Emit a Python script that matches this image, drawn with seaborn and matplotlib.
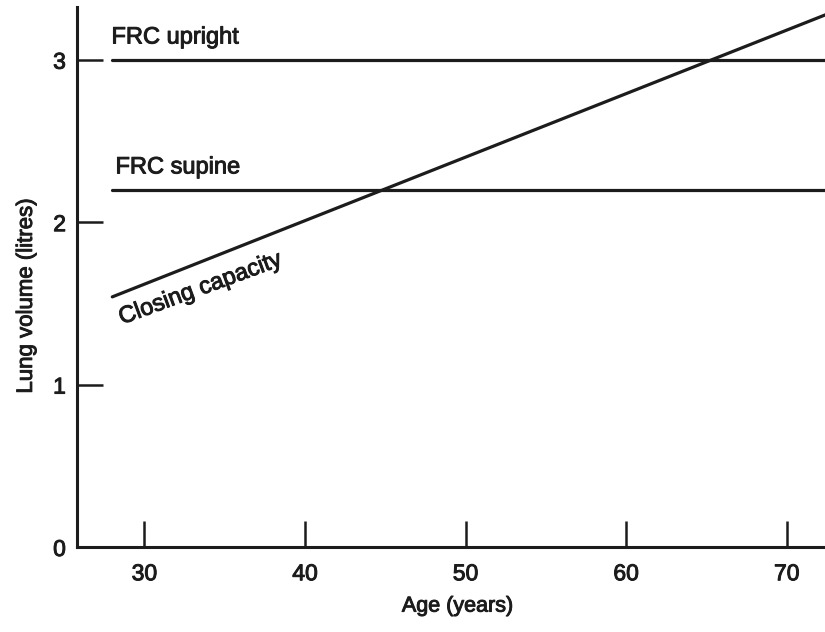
import matplotlib
matplotlib.use("Agg")
import matplotlib.pyplot as plt
import matplotlib.patheffects as pe
import seaborn as sns
import pandas as pd

# Lung volumes against age
age_span = [28, 72.5]
frc_upright = [3.0, 3.0]
frc_supine = [2.2, 2.2]
closing_capacity = [1.54, 3.28]

x_ticks = [30, 40, 50, 60, 70]
y_ticks = [0, 1, 2, 3]

sns.set_style("ticks")
plt.rcParams["font.family"] = ["Liberation Sans", "DejaVu Sans"]

ink = "#1c1c1c"
thick = [pe.withStroke(linewidth=0.7, foreground=ink)]

df = pd.DataFrame({
    "age": age_span * 3,
    "volume": frc_upright + frc_supine + closing_capacity,
    "curve": ["FRC upright"] * 2 + ["FRC supine"] * 2 + ["Closing capacity"] * 2,
})

fig = plt.figure(figsize=(8.25, 6.32), dpi=100)
ax = fig.add_axes([0.0933, 0.1345, 0.9167, 0.8545])

sns.lineplot(data=df, x="age", y="volume", units="curve", estimator=None,
             color=ink, linewidth=2.3, ax=ax, legend=False)

ax.set_xlim(25.8, 72.9)
ax.set_ylim(0, 3.325)
ax.set_xticks(x_ticks)
ax.set_yticks(y_ticks)

for side in ("top", "right"):
    ax.spines[side].set_visible(False)
for side in ("left", "bottom"):
    ax.spines[side].set_linewidth(2.2)
    ax.spines[side].set_color(ink)

ax.tick_params(axis="x", direction="in", length=19, width=1.8, color=ink,
               labelsize=16.5, labelcolor=ink, pad=11)
ax.tick_params(axis="y", direction="in", length=19, width=1.8, color=ink,
               labelsize=16.5, labelcolor=ink, pad=8)
for lbl in ax.get_xticklabels() + ax.get_yticklabels():
    lbl.set_path_effects(thick)

ax.set_xlabel("Age (years)", fontsize=15.5, color=ink, path_effects=thick)
ax.set_ylabel("Lung volume (litres)", fontsize=16, color=ink, path_effects=thick)
ax.xaxis.set_label_coords(0.503, -0.09)
ax.yaxis.set_label_coords(-0.053, 0.465)

ax.text(27.95, 3.10, "FRC upright", fontsize=17, color=ink, ha="left",
        va="baseline", path_effects=thick)
ax.text(28.2, 2.30, "FRC supine", fontsize=17, color=ink, ha="left",
        va="baseline", path_effects=thick)
ax.text(28.6, 1.37, "Closing capacity", fontsize=17, color=ink, ha="left",
        va="baseline", rotation=20.3, rotation_mode="anchor", path_effects=thick)

fig.savefig("out.png", dpi=100)
